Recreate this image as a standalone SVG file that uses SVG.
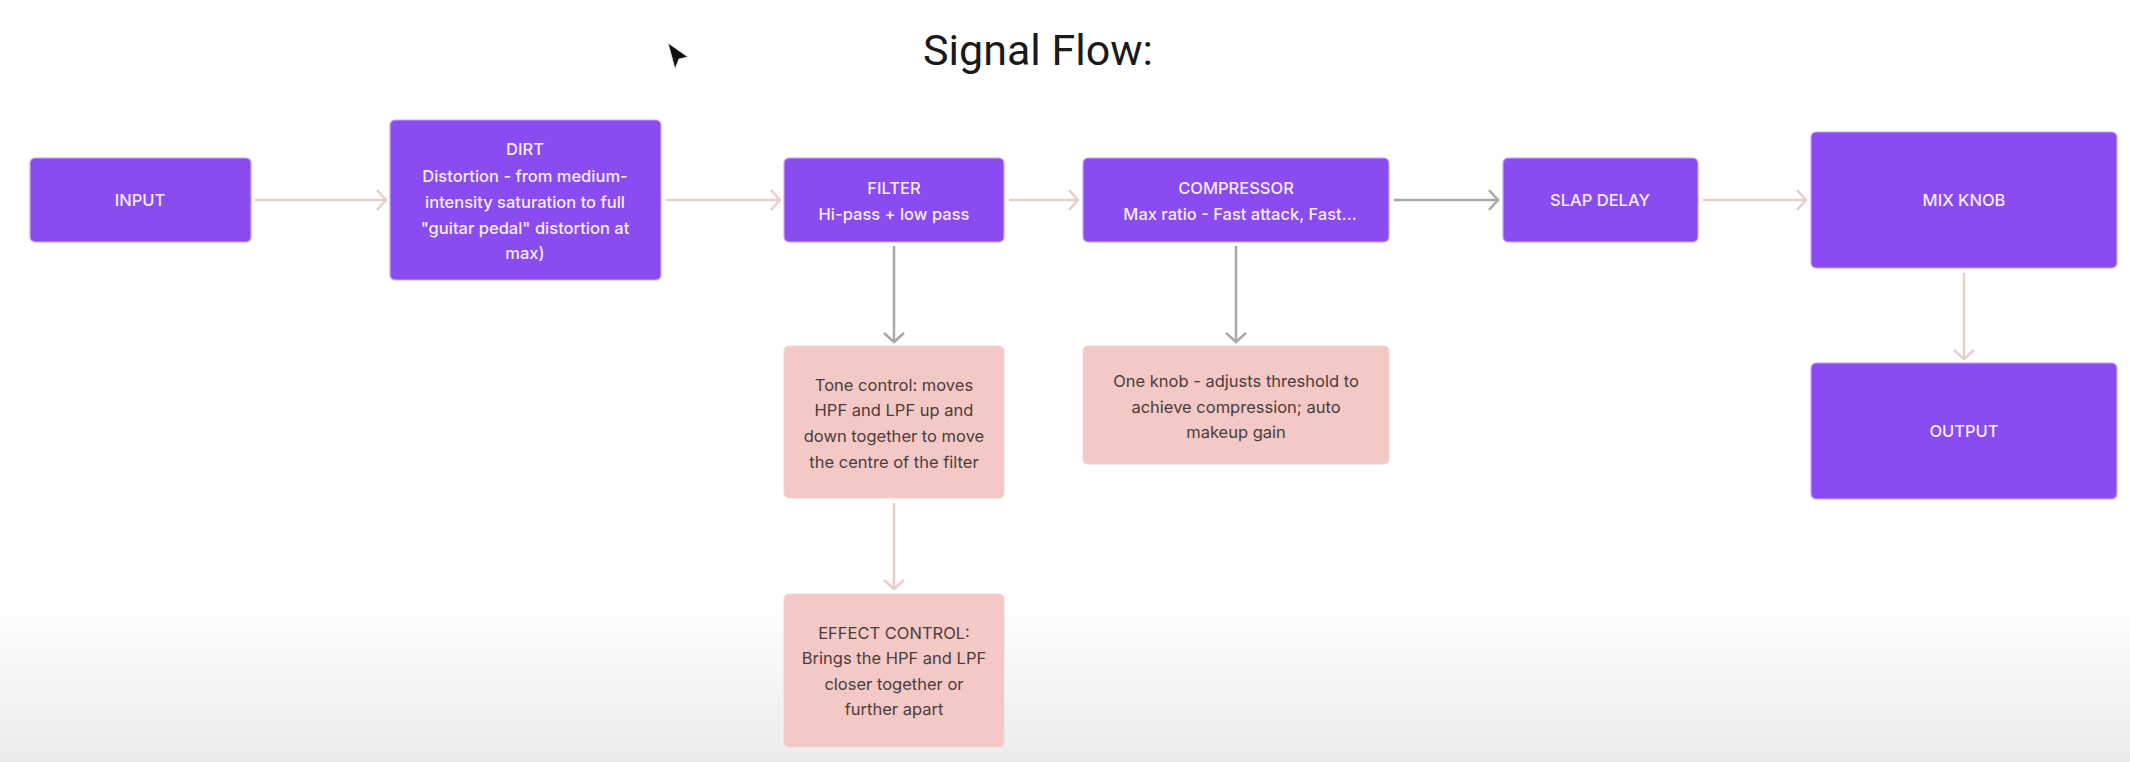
<svg xmlns="http://www.w3.org/2000/svg" width="2130" height="762" viewBox="0 0 2130 762">
<defs>
<linearGradient id="bg" x1="0" y1="0" x2="0" y2="1">
<stop offset="0" stop-color="#ffffff"/>
<stop offset="0.78" stop-color="#ffffff"/>
<stop offset="1" stop-color="#ececec"/>
</linearGradient>
<marker id="ahPink" markerUnits="userSpaceOnUse" markerWidth="24" markerHeight="24" viewBox="-12 -12 24 24" refX="0" refY="0" orient="auto">
<path d="M-9,-10 L0,0 L-9,10" fill="none" stroke="#e8cfca" stroke-width="2.5"/>
</marker>
<marker id="ahGray" markerUnits="userSpaceOnUse" markerWidth="24" markerHeight="24" viewBox="-12 -12 24 24" refX="0" refY="0" orient="auto">
<path d="M-9,-10 L0,0 L-9,10" fill="none" stroke="#a9a9a9" stroke-width="2.5"/>
</marker>
</defs>
<style>
.p{fill:#8a4bf0;stroke:#c7a6f7;stroke-width:1.2}
.k{fill:#f4c8c4;stroke:#f0d4d0;stroke-width:1}
.tw{font-family:Inter,"Liberation Sans",sans-serif;font-size:16.5px;font-weight:500;fill:#f4ecfe;text-anchor:middle}
.tk{font-family:Inter,"Liberation Sans",sans-serif;font-size:16.5px;fill:#4a3d3d;text-anchor:middle}
.cp{stroke:#e8cfca;stroke-width:2.5;fill:none;marker-end:url(#ahPink)}
.cg{stroke:#a9a9a9;stroke-width:2.5;fill:none;marker-end:url(#ahGray)}
</style>
<rect x="0" y="0" width="2130" height="762" fill="url(#bg)"/>
<text x="1038" y="65" font-family="Roboto,'Liberation Sans',sans-serif" font-size="43" fill="#1a1a1a" text-anchor="middle">Signal Flow:</text>
<path d="M668,43 L688,57 L679,59 L675,69 Z" fill="#111" stroke="#ddd" stroke-width="1"/>
<g id="connectors">
<line class="cp" x1="255" y1="200" x2="386" y2="200"/>
<line class="cp" x1="666" y1="200" x2="780" y2="200"/>
<line class="cp" x1="1009" y1="200" x2="1078" y2="200"/>
<line class="cg" x1="1394" y1="200" x2="1498" y2="200"/>
<line class="cp" x1="1703" y1="200" x2="1806" y2="200"/>
<line class="cp" x1="1964" y1="273" x2="1964" y2="359"/>
<line class="cg" x1="894" y1="246" x2="894" y2="342"/>
<line class="cg" x1="1236" y1="246" x2="1236" y2="342"/>
<line class="cp" x1="894" y1="503" x2="894" y2="589"/>
</g>
<g id="input">
<rect class="p" x="30" y="158" width="221" height="84" rx="5"/>
<text class="tw" x="140" y="206">INPUT</text>
</g>
<g id="dirt">
<rect class="p" x="390" y="120" width="271" height="160" rx="5"/>
<text class="tw" x="525" y="155">DIRT</text>
<text class="tw" x="525" y="182">Distortion - from medium-</text>
<text class="tw" x="525" y="208">intensity saturation to full</text>
<text class="tw" x="525" y="234">"guitar pedal" distortion at</text>
<text class="tw" x="525" y="259">max)</text>
</g>
<g id="filter">
<rect class="p" x="784" y="158" width="220" height="84" rx="5"/>
<text class="tw" x="894" y="194">FILTER</text>
<text class="tw" x="894" y="220">Hi-pass + low pass</text>
</g>
<g id="compressor">
<rect class="p" x="1083" y="158" width="306" height="84" rx="5"/>
<text class="tw" x="1236" y="194">COMPRESSOR</text>
<text class="tw" x="1240" y="220">Max ratio - Fast attack, Fast...</text>
</g>
<g id="slap-delay">
<rect class="p" x="1503" y="158" width="195" height="84" rx="5"/>
<text class="tw" x="1600" y="206">SLAP DELAY</text>
</g>
<g id="mix-knob">
<rect class="p" x="1811" y="132" width="306" height="136" rx="5"/>
<text class="tw" x="1964" y="206">MIX KNOB</text>
</g>
<g id="output">
<rect class="p" x="1811" y="363" width="306" height="136" rx="5"/>
<text class="tw" x="1964" y="437">OUTPUT</text>
</g>
<g id="tone-control">
<rect class="k" x="784" y="346" width="220" height="152" rx="5"/>
<text class="tk" x="894" y="391">Tone control: moves</text>
<text class="tk" x="894" y="416">HPF and LPF up and</text>
<text class="tk" x="894" y="442">down together to move</text>
<text class="tk" x="894" y="468">the centre of the filter</text>
</g>
<g id="threshold-knob">
<rect class="k" x="1083" y="346" width="306" height="118" rx="5"/>
<text class="tk" x="1236" y="387">One knob - adjusts threshold to</text>
<text class="tk" x="1236" y="413">achieve compression; auto</text>
<text class="tk" x="1236" y="438">makeup gain</text>
</g>
<g id="effect-control">
<rect class="k" x="784" y="594" width="220" height="153" rx="5"/>
<text class="tk" x="894" y="639">EFFECT CONTROL:</text>
<text class="tk" x="894" y="664">Brings the HPF and LPF</text>
<text class="tk" x="894" y="690">closer together or</text>
<text class="tk" x="894" y="715">further apart</text>
</g>
</svg>
